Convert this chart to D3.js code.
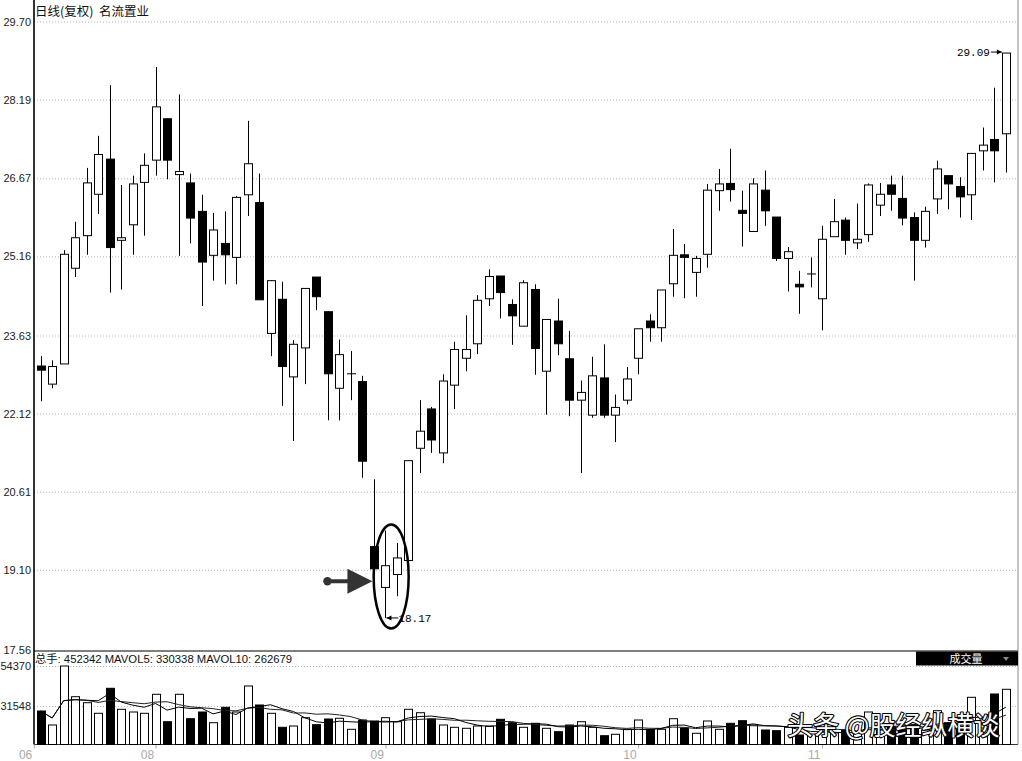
<!DOCTYPE html>
<html><head><meta charset="utf-8">
<script src="https://cdn.jsdelivr.net/npm/d3@7"></script>
<style>html,body{margin:0;padding:0;background:#fff;} svg{display:block;} text{white-space:pre;}</style>
</head><body>
<svg id="chart" width="1022" height="761"></svg>
<script>
// ---------- data ----------
const dayIndex = d3.range(85);
const open = [
23.04,22.69,23.08,24.93,25.56,26.36,27.04,25.47,25.77,26.59,
27.02,27.82,26.74,26.58,26.03,25.18,25.41,25.14,26.35,26.20,
23.67,24.33,22.83,23.39,24.76,24.09,22.61,22.89,22.74,19.55,
18.76,19.01,19.28,21.45,22.21,21.36,22.67,23.19,23.47,24.34,
24.78,24.23,23.81,24.52,22.94,23.91,23.18,22.38,22.09,22.81,
22.09,22.38,23.19,23.91,23.78,24.63,25.19,24.85,25.20,26.43,
26.57,26.05,25.64,26.44,25.92,25.12,24.62,24.82,24.34,25.54,
25.86,25.42,25.58,26.15,26.54,26.28,25.91,25.47,26.27,26.72,
26.51,26.35,27.20,27.42,27.53];
const close = [
22.96,23.03,25.20,25.52,26.58,27.13,25.33,25.52,26.56,26.92,
28.05,27.02,26.80,25.90,25.05,25.67,25.19,26.30,26.95,24.32,
24.69,23.03,23.46,24.54,24.38,22.89,23.26,22.89,21.20,19.12,
19.18,19.33,21.21,21.78,21.61,22.75,23.36,23.36,24.31,24.77,
24.46,24.01,24.65,23.38,23.94,23.47,22.38,22.53,22.85,22.09,
22.24,22.79,23.76,23.78,24.51,25.18,25.14,25.12,26.44,26.56,
26.45,25.99,26.56,26.04,25.12,25.25,24.57,24.82,25.49,25.83,
25.47,25.49,26.54,26.36,26.36,25.90,25.47,26.03,26.85,26.56,
26.31,27.15,27.31,27.20,29.09];
const high = [
23.23,23.15,25.28,25.83,26.87,27.49,28.47,26.54,26.72,27.15,
28.82,27.82,28.29,26.76,26.35,26.00,26.03,26.33,27.78,26.76,
24.70,24.67,23.54,24.54,24.76,24.09,23.55,23.33,22.85,20.85,
19.86,19.62,21.21,22.38,22.25,22.88,23.51,24.02,24.41,24.91,
24.78,24.33,24.70,24.62,23.94,24.34,23.72,22.76,23.22,23.46,
22.49,23.02,23.76,24.04,24.51,25.69,25.40,25.17,26.56,26.85,
27.24,26.43,26.67,26.82,25.92,25.34,24.88,25.14,25.75,26.27,
25.91,26.18,26.57,26.58,26.72,26.72,26.01,26.12,27.01,26.72,
26.69,27.15,27.65,28.42,29.09];
const low = [
22.36,22.61,23.08,24.76,25.19,25.98,24.46,24.52,25.19,25.56,
26.72,26.65,25.17,25.41,24.20,24.69,24.62,24.62,25.94,24.32,
23.23,22.27,21.59,22.69,24.12,21.99,21.99,22.38,20.88,19.07,
18.17,18.59,19.28,20.97,21.36,21.16,22.21,22.94,23.27,24.20,
23.96,23.45,23.81,22.87,22.10,23.25,22.07,20.97,22.04,22.04,
21.57,22.30,22.88,23.51,23.51,24.38,24.35,24.38,24.94,26.04,
26.22,25.35,25.64,25.75,25.07,24.48,24.05,24.56,23.73,25.54,
25.19,25.30,25.44,25.94,26.04,25.76,24.69,25.33,25.98,26.07,
25.91,25.86,26.82,26.59,26.78];
const volume = [
28695,20708,54370,36854,33431,27383,41647,29665,28125,27383,
38223,22590,38223,24302,28125,22020,30806,28125,42959,32119,
27383,19395,20137,24873,20879,24131,24530,18254,23560,22990,
24873,22590,29665,27725,24131,20708,19395,18825,20137,20137,
23960,22020,19395,21677,18825,16885,20708,22590,19395,14603,
15401,18254,23560,18254,18254,24302,18996,15972,22990,18254,
21677,23161,20708,17855,17455,19395,15002,15573,16714,16144,
17855,16144,28125,17855,19566,18996,20708,17855,28866,22020,
19566,36512,18996,38395,41076];
const priceTicks = [29.70,28.19,26.67,25.16,23.63,22.12,20.61,19.10,17.56];
const volumeTicks = [54370,31548];
const monthLabels = ['06','08','09','10','11'];
const monthPositions = [-0.6,10,30,52,68];
const titleText = '日线(复权)  名流置业';
const volumeHeader = '总手: 452342 MAVOL5: 330338 MAVOL10: 262679';
const maxLabel = 29.09, minLabel = 18.17;

// ---------- layout ----------
const left = 34, right = 1018;
const priceTop = 21.5, priceBottom = 649.5;
const sepY = 651, volBase = 744.5;
const svg = d3.select('#chart');
const x = d3.scaleLinear().domain([0, 84]).range([40.7, 1005.9]);
const y = d3.scaleLinear().domain([17.56, 29.70]).range([priceBottom, priceTop]);
const yv = d3.scaleLinear().domain([31548, 54370]).range([706, 666]);
const bodyW = 8;

// price grid + labels
const gY = svg.append('g').attr('transform', `translate(${left},0)`)
  .call(d3.axisLeft(y).tickValues(priceTicks).tickFormat(d3.format('.2f'))
        .tickSize(-(right-left)).tickPadding(3));
gY.select('.domain').remove();
gY.selectAll('.tick line').attr('stroke', '#b8b8b8').attr('stroke-dasharray', '1,2');
gY.selectAll('.tick text').attr('font-family', 'Liberation Sans, Arial, sans-serif')
  .attr('font-size', 11).attr('fill', '#222');
gY.selectAll('.tick').filter(d => d === 17.56).select('line').remove();

// volume grid + labels
const gV = svg.append('g').attr('transform', `translate(${left},0)`)
  .call(d3.axisLeft(yv).tickValues(volumeTicks).tickFormat(d3.format('d'))
        .tickSize(-(right-left)).tickPadding(3));
gV.select('.domain').remove();
gV.selectAll('.tick line').attr('stroke', '#b8b8b8').attr('stroke-dasharray', '1,2');
gV.selectAll('.tick text').attr('font-family', 'Liberation Sans, Arial, sans-serif')
  .attr('font-size', 11).attr('fill', '#222');

// frame lines
svg.append('line').attr('x1', left).attr('x2', right).attr('y1', sepY).attr('y2', sepY)
  .attr('stroke', '#555').attr('stroke-width', 1.5);
svg.append('line').attr('x1', left).attr('x2', right).attr('y1', volBase).attr('y2', volBase)
  .attr('stroke', '#333').attr('stroke-width', 1);
svg.append('line').attr('x1', right).attr('x2', right).attr('y1', 0).attr('y2', volBase)
  .attr('stroke', '#888').attr('stroke-width', 1);
svg.append('line').attr('x1', left).attr('x2', left).attr('y1', 0).attr('y2', volBase)
  .attr('stroke', '#000').attr('stroke-width', 1.6);

// x axis
const gX = svg.append('g').attr('transform', `translate(0,${volBase})`)
  .call(d3.axisBottom(x).tickValues(monthPositions).tickFormat((d, i) => monthLabels[i])
        .tickSize(4).tickPadding(2));
gX.select('.domain').remove();
gX.selectAll('.tick line').attr('stroke', '#aaa');
gX.selectAll('.tick text').attr('text-anchor', 'end').attr('dx', -2)
  .attr('font-family', 'Liberation Sans, Arial, sans-serif').attr('font-size', 12).attr('fill', '#aaa');

// candles
const candles = svg.append('g').selectAll('g').data(dayIndex).join('g');
candles.append('line')
  .attr('x1', i => Math.round(x(i)) + 0.5).attr('x2', i => Math.round(x(i)) + 0.5)
  .attr('y1', i => y(high[i])).attr('y2', i => y(low[i]))
  .attr('stroke', '#000').attr('stroke-width', 1);
candles.append('rect')
  .attr('x', i => Math.round(x(i)) - bodyW/2 + 0.5)
  .attr('width', bodyW)
  .attr('y', i => y(Math.max(open[i], close[i])))
  .attr('height', i => Math.max(0.01, Math.abs(y(open[i]) - y(close[i]))))
  .attr('fill', i => close[i] < open[i] ? '#000' : '#fff')
  .attr('stroke', '#000').attr('stroke-width', 1);

// volume bars
svg.append('g').selectAll('rect').data(dayIndex).join('rect')
  .attr('x', i => Math.round(x(i)) - bodyW/2 + 0.5)
  .attr('width', bodyW)
  .attr('y', i => yv(volume[i]))
  .attr('height', i => volBase - yv(volume[i]))
  .attr('fill', i => close[i] < open[i] ? '#000' : '#fff')
  .attr('stroke', '#000').attr('stroke-width', 1);

// moving averages of volume
function movingAvg(n) {
  return dayIndex.map(i => d3.mean(volume.slice(Math.max(0, i - n + 1), i + 1)));
}
const ma5 = movingAvg(5), ma10 = movingAvg(10);
const lineGen = arr => d3.line().x(i => x(i)).y(i => yv(arr[i]))(dayIndex);
svg.append('path').attr('d', lineGen(ma10)).attr('fill', 'none').attr('stroke', '#222').attr('stroke-width', 1);
svg.append('path').attr('d', lineGen(ma5)).attr('fill', 'none').attr('stroke', '#000').attr('stroke-width', 1);

// headers
svg.append('text').attr('x', 35).attr('y', 16).text(titleText)
  .attr('font-family', 'Noto Sans CJK SC, sans-serif').attr('font-size', 12.5).attr('fill', '#111');
svg.append('text').attr('x', 35).attr('y', 662.5).text(volumeHeader)
  .attr('font-family', 'Liberation Sans, Noto Sans CJK SC, sans-serif').attr('font-size', 11.3).attr('fill', '#111');
svg.append('rect').attr('x', 916).attr('y', 651.5).attr('width', 102).attr('height', 14).attr('fill', '#000');
svg.append('text').attr('x', 966).attr('y', 662.5).attr('text-anchor', 'middle').text('成交量')
  .attr('font-family', 'Noto Sans CJK SC, sans-serif').attr('font-size', 11).attr('fill', '#fff');
svg.append('path').attr('d', 'M1003,657 L1009,657 L1006,661 Z').attr('fill', '#888');

// max / min annotations
const iMax = high.indexOf(maxLabel), iMin = low.indexOf(minLabel);
const arrowHead = (x0, y0, dir) => `M${x0},${y0} L${x0 - 5*dir},${y0 - 2.5} L${x0 - 5*dir},${y0 + 2.5} Z`;
{
  const xm = x(iMax) - 4, ym = y(maxLabel) - 1;
  svg.append('line').attr('x1', xm - 11).attr('x2', xm).attr('y1', ym).attr('y2', ym).attr('stroke', '#000');
  svg.append('path').attr('d', arrowHead(xm, ym, 1)).attr('fill', '#000');
  svg.append('text').attr('x', xm - 12).attr('y', ym + 4).attr('text-anchor', 'end').text(maxLabel.toFixed(2))
    .attr('font-family', 'Liberation Mono, monospace').attr('font-size', 11).attr('fill', '#000');
}
{
  const xm = x(iMin) + 1, ym = y(minLabel);
  svg.append('line').attr('x1', xm).attr('x2', xm + 12).attr('y1', ym).attr('y2', ym).attr('stroke', '#000');
  svg.append('path').attr('d', arrowHead(xm, ym, -1)).attr('fill', '#000');
  svg.append('text').attr('x', xm + 12).attr('y', ym + 4).text(minLabel.toFixed(2))
    .attr('font-family', 'Liberation Mono, monospace').attr('font-size', 11).attr('fill', '#000');
}

// ellipse highlight and pointer arrow
svg.append('ellipse').attr('cx', x(30.5)).attr('cy', y(18.97)).attr('rx', 17.5).attr('ry', 52)
  .attr('fill', 'none').attr('stroke', '#000').attr('stroke-width', 2.5);
{
  const tipX = x(29) - 1.5, tipY = y(18.88);
  svg.append('path')
    .attr('d', `M${tipX - 46},${tipY - 2} L${tipX - 25},${tipY - 2} L${tipX - 25},${tipY - 12.5} L${tipX},${tipY} L${tipX - 25},${tipY + 12.5} L${tipX - 25},${tipY + 2} L${tipX - 46},${tipY + 2} Z`)
    .attr('fill', '#333');
  svg.append('circle').attr('cx', tipX - 45).attr('cy', tipY).attr('r', 4.2).attr('fill', '#333');
}

// watermark
svg.append('text').attr('x', 787).attr('y', 735).text('头条 @股经纵横谈')
  .attr('font-family', 'Noto Sans CJK SC, sans-serif').attr('font-size', 26)
  .attr('fill', '#fff').attr('stroke', '#000').attr('stroke-width', 2.2)
  .attr('stroke-linejoin', 'round').attr('paint-order', 'stroke');
</script>
</body></html>
